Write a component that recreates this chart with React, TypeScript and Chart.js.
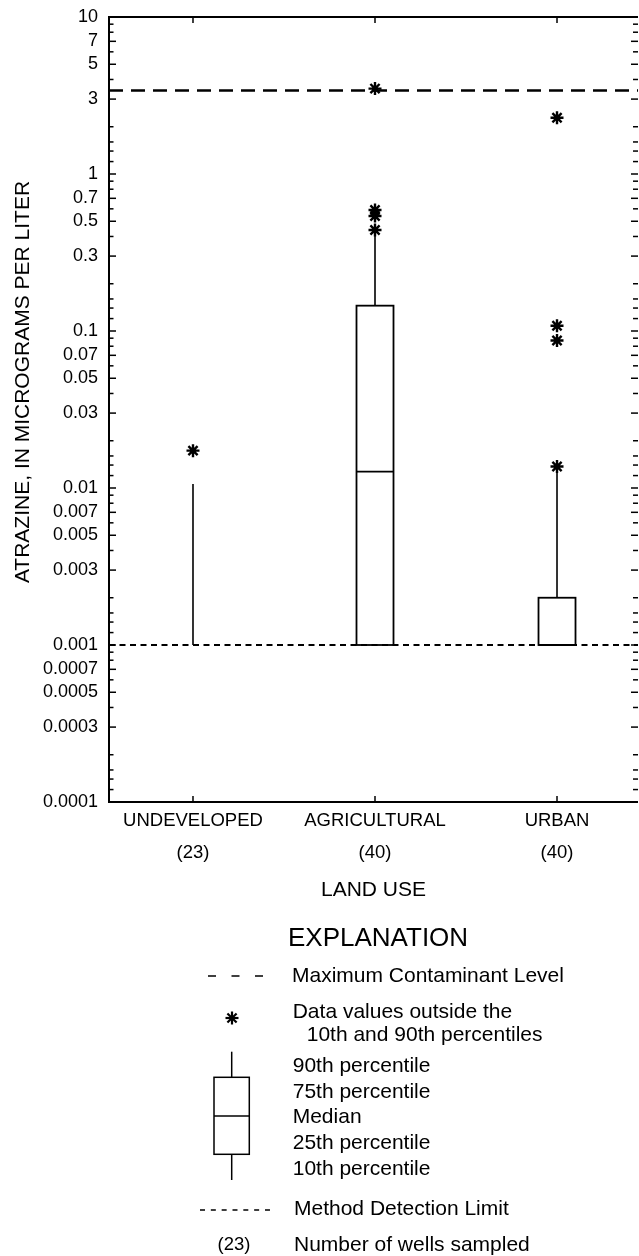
import React, { useEffect, useRef } from 'react';
import { Chart, registerables } from 'chart.js';

Chart.register(...registerables);

const FONT = '"Liberation Sans", Arial, Helvetica, sans-serif';

// ---------- data ----------
const categories = ['UNDEVELOPED', 'AGRICULTURAL', 'URBAN'];
const wellCounts = ['(23)', '(40)', '(40)'];
const p10: (number | null)[] = [0.001, 0.001, 0.001];
const p25: (number | null)[] = [null, 0.001, 0.001];
const medians: (number | null)[] = [null, 0.0127, 0.001];
const p75: (number | null)[] = [null, 0.145, 0.002];
const p90: (number | null)[] = [0.0106, 0.43, 0.0135];
const outliersUndeveloped = [0.0173];
const outliersAgricultural = [0.44, 0.54, 0.59, 3.5];
const outliersUrban = [0.0137, 0.087, 0.108, 2.28];
const maxContaminantLevel = 3.4;
const methodDetectionLimit = 0.001;

const yTickLabels = [
  '0.0001', '0.0003', '0.0005', '0.0007',
  '0.001', '0.003', '0.005', '0.007',
  '0.01', '0.03', '0.05', '0.07',
  '0.1', '0.3', '0.5', '0.7',
  '1', '3', '5', '7', '10',
];
const tickDecades = [0.0001, 0.001, 0.01, 0.1, 1];
const tickMantissas = [1, 1.2, 1.4, 1.6, 2, 3, 4, 5, 6, 7, 8, 9];
const yTickValues = [...tickDecades.flatMap((d) => tickMantissas.map((m) => m * d)), 10];

const yAxisTitle = 'ATRAZINE, IN MICROGRAMS PER LITER';
const xAxisTitle = 'LAND USE';
const explanationTitle = 'EXPLANATION';
const mclLabel = 'Maximum Contaminant Level';
const outlierLabel = ['Data values outside the', '10th and 90th percentiles'];
const boxLabels = ['90th percentile', '75th percentile', 'Median', '25th percentile', '10th percentile'];
const mdlLabel = 'Method Detection Limit';
const countSample = '(23)';
const countLabel = 'Number of wells sampled';

// ---------- helpers ----------
const labelFor = (v: number) =>
  yTickLabels.find((l) => Math.abs(Number(l) - v) < v * 1e-6) ?? '';

function seg(ctx: CanvasRenderingContext2D, x1: number, y1: number, x2: number, y2: number) {
  ctx.beginPath();
  ctx.moveTo(x1, y1);
  ctx.lineTo(x2, y2);
  ctx.stroke();
}

function txt(ctx: CanvasRenderingContext2D, s: string, x: number, y: number, size: number, align: CanvasTextAlign = 'left') {
  ctx.font = `${size}px ${FONT}`;
  ctx.textAlign = align;
  ctx.textBaseline = 'middle';
  ctx.fillStyle = '#000';
  ctx.fillText(s, x, y);
}

function star(ctx: CanvasRenderingContext2D, x: number, y: number, r: number) {
  for (let k = 0; k < 4; k++) {
    const ang = (k * Math.PI) / 4;
    seg(ctx, x - r * Math.cos(ang), y - r * Math.sin(ang), x + r * Math.cos(ang), y + r * Math.sin(ang));
  }
}

const BOX_HALF = 18.5;

const boxPlotPlugin = {
  id: 'boxPlot',
  beforeDatasetsDraw(chart: any) {
    const { ctx, chartArea: a } = chart;
    const xs = chart.scales.x;
    const ys = chart.scales.y;
    ctx.save();
    ctx.strokeStyle = '#000';
    ctx.lineCap = 'butt';

    // method detection limit
    ctx.lineWidth = 1.8;
    ctx.setLineDash([6, 4.5]);
    const yMdl = ys.getPixelForValue(methodDetectionLimit);
    seg(ctx, a.left, yMdl, a.right, yMdl);
    // maximum contaminant level
    ctx.lineWidth = 2.6;
    ctx.setLineDash([14, 8]);
    const yMcl = ys.getPixelForValue(maxContaminantLevel);
    seg(ctx, a.left, yMcl, a.right, yMcl);
    ctx.setLineDash([]);

    categories.forEach((_, i) => {
      const cx = xs.getPixelForValue(i);
      const y10 = ys.getPixelForValue(p10[i]);
      const y90 = ys.getPixelForValue(p90[i]);
      ctx.lineWidth = 1.6;
      if (p25[i] == null || p75[i] == null) {
        seg(ctx, cx, y10, cx, y90);
        return;
      }
      const y25 = ys.getPixelForValue(p25[i]);
      const y75 = ys.getPixelForValue(p75[i]);
      if (y10 > y25) seg(ctx, cx, y10, cx, y25);
      seg(ctx, cx, y75, cx, y90);
      ctx.lineWidth = 1.8;
      ctx.strokeRect(cx - BOX_HALF, y75, 2 * BOX_HALF, y25 - y75);
      if (medians[i] != null) {
        const ym = ys.getPixelForValue(medians[i]);
        seg(ctx, cx - BOX_HALF, ym, cx + BOX_HALF, ym);
      }
    });
    ctx.restore();
  },
  afterDraw(chart: any) {
    const { ctx, chartArea: a } = chart;
    const xs = chart.scales.x;
    const ys = chart.scales.y;
    ctx.save();
    ctx.strokeStyle = '#000';
    ctx.fillStyle = '#000';

    // frame (top, left, bottom)
    ctx.lineWidth = 2;
    ctx.lineJoin = 'miter';
    ctx.beginPath();
    ctx.moveTo(a.right, a.top);
    ctx.lineTo(a.left, a.top);
    ctx.lineTo(a.left, a.bottom);
    ctx.lineTo(a.right, a.bottom);
    ctx.stroke();

    // category ticks top & bottom
    ctx.lineWidth = 1.5;
    categories.forEach((_, i) => {
      const cx = xs.getPixelForValue(i);
      seg(ctx, cx, a.top, cx, a.top + 6);
      seg(ctx, cx, a.bottom, cx, a.bottom - 6);
    });

    // y ticks, inward on both sides
    ys.ticks.forEach((t: any) => {
      const py = ys.getPixelForValue(t.value);
      const labelled = labelFor(t.value) !== '';
      ctx.lineWidth = 1.5;
      seg(ctx, a.left, py, a.left + (labelled ? 7 : 4.5), py);
      seg(ctx, a.right, py, a.right - (labelled ? 7 : 5), py);
    });

    // y title
    ctx.save();
    ctx.translate(23, 382);
    ctx.rotate(-Math.PI / 2);
    txt(ctx, yAxisTitle, 0, 0, 21, 'center');
    ctx.restore();

    // category labels
    categories.forEach((c, i) => {
      const cx = xs.getPixelForValue(i);
      txt(ctx, c, cx, 820.5, 18.5, 'center');
      txt(ctx, wellCounts[i], cx, 852.5, 18.5, 'center');
    });
    txt(ctx, xAxisTitle, (a.left + a.right) / 2, 890.5, 21, 'center');

    // explanation
    txt(ctx, explanationTitle, 288, 938.5, 26);

    ctx.lineWidth = 1.5;
    ctx.setLineDash([8, 15.5]);
    seg(ctx, 208, 976, 264, 976);
    ctx.setLineDash([]);
    txt(ctx, mclLabel, 292, 976, 21);

    ctx.lineWidth = 2.2;
    star(ctx, 232, 1018, 6.5);
    txt(ctx, outlierLabel[0], 292.7, 1012.3, 21);
    txt(ctx, outlierLabel[1], 306.7, 1035, 21);

    ctx.lineWidth = 1.5;
    const bx = 231.7;
    seg(ctx, bx, 1051.7, bx, 1077.3);
    ctx.strokeRect(214, 1077.3, 35.3, 77);
    seg(ctx, 214, 1116, 249.3, 1116);
    seg(ctx, bx, 1154.3, bx, 1180);
    const boxYs = [1066.7, 1092.7, 1117.7, 1143.3, 1169.3];
    boxLabels.forEach((l, i) => txt(ctx, l, 292.7, boxYs[i], 21));

    ctx.setLineDash([5, 5.83]);
    seg(ctx, 200, 1210, 270, 1210);
    ctx.setLineDash([]);
    txt(ctx, mdlLabel, 294, 1209, 21);

    txt(ctx, countSample, 234, 1245, 18.5, 'center');
    txt(ctx, countLabel, 294, 1245, 21);

    ctx.restore();
  },
};

export default function App() {
  const ref = useRef<HTMLCanvasElement>(null);
  useEffect(() => {
    const outlierPoints = [
      ...outliersUndeveloped.map((v) => ({ x: 0, y: v })),
      ...outliersAgricultural.map((v) => ({ x: 1, y: v })),
      ...outliersUrban.map((v) => ({ x: 2, y: v })),
    ];
    const chart = new Chart(ref.current as HTMLCanvasElement, {
      type: 'scatter',
      data: {
        datasets: [
          {
            label: 'Outliers',
            data: outlierPoints,
            pointStyle: 'star',
            pointRadius: 6.5,
            pointBorderWidth: 2.4,
            borderColor: '#000',
            backgroundColor: '#000',
            clip: false,
          },
        ],
      },
      options: {
        responsive: false,
        animation: false,
        devicePixelRatio: 1,
        layout: { autoPadding: false, padding: { top: 17, right: 1, bottom: 454, left: 0 } },
        plugins: { legend: { display: false }, tooltip: { enabled: false } },
        scales: {
          x: {
            type: 'linear',
            min: -0.4615,
            max: 2.445,
            display: false,
          },
          y: {
            type: 'logarithmic',
            position: 'left',
            min: 0.0001,
            max: 10,
            afterFit: (s: any) => {
              s.width = 109;
              s.paddingTop = 0;
              s.paddingBottom = 0;
            },
            afterBuildTicks: (s: any) => {
              s.ticks = yTickValues.map((v) => ({ value: v }));
            },
            grid: { display: false, drawTicks: false },
            border: { display: false },
            ticks: {
              autoSkip: false,
              padding: 11,
              color: '#000',
              font: { family: FONT, size: 18 },
              callback: (v: any) => labelFor(Number(v)),
            },
          },
        },
      },
      plugins: [boxPlotPlugin],
    } as any);
    return () => chart.destroy();
  }, []);
  return (
    <div style={{ position: 'absolute', left: 0, top: 0, width: 639, height: 1256, background: '#fff' }}>
      <canvas ref={ref} width={639} height={1256} style={{ display: 'block', width: 639, height: 1256 }} />
    </div>
  );
}
